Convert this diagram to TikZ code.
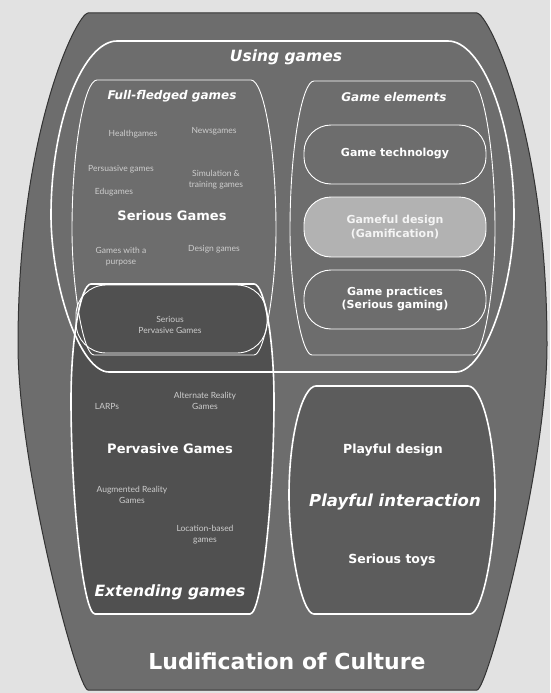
\documentclass[tikz,border=0pt]{standalone}
\usepackage{fontspec}
\setmainfont{DejaVu Sans}
\newfontfamily\itemfont{Lato}
\usetikzlibrary{positioning}
\definecolor{pagegray}{HTML}{E2E2E2}
\definecolor{ludgray}{HTML}{6D6D6D}
\definecolor{extgray}{HTML}{505050}
\definecolor{playgray}{HTML}{5C5C5C}
\definecolor{gamefulgray}{HTML}{B2B2B2}
\definecolor{smalltext}{HTML}{CDCDCD}
\tikzset{thickline/.style = {draw=white, line width=1.6pt}}
\tikzset{thinline/.style = {draw=white, line width=0.9pt}}
\tikzset{pill/.style = {thinline, rounded corners=27pt}}
\tikzset{headlabel/.style = {text=white, font=\bfseries\itshape\fontsize{12}{14}\selectfont}}
\tikzset{biglabel/.style = {text=white, font=\bfseries\itshape\fontsize{15.5}{17}\selectfont}}
\tikzset{mainlabel/.style = {text=white, font=\bfseries\fontsize{13}{15}\selectfont}}
\tikzset{playlabel/.style = {text=white, font=\bfseries\fontsize{12.5}{15}\selectfont}}
\tikzset{pilllabel/.style = {text=white, font=\bfseries\fontsize{11}{13.5}\selectfont, align=center}}
\tikzset{smalllabel/.style = {text=smalltext, font=\itemfont\fontsize{8.5}{11}\selectfont, align=center}}
% barrel: L, R, T, B, widest y, top inset, bottom inset, corner, side pull
\newcommand{\barrel}[9]{%
  ({#1+#6},#3) -- ({#2-#6},#3)
  .. controls ({#2-#6+#8*#6},#3) and (#2,{#3+#9*(#5-#3)}) .. (#2,#5)
  .. controls (#2,{#5+#9*(#4-#5)}) and ({#2-#7+#8*#7},#4) .. ({#2-#7},#4)
  -- ({#1+#7},#4)
  .. controls ({#1+#7-#8*#7},#4) and (#1,{#5+#9*(#4-#5)}) .. (#1,#5)
  .. controls (#1,{#3+#9*(#5-#3)}) and ({#1+#6-#8*#6},#3) .. ({#1+#6},#3) -- cycle}

\begin{document}
\begin{tikzpicture}[x=1pt, y=-1pt]
  \fill[pagegray] (0,0) rectangle (550,693);
  \useasboundingbox (0,0) rectangle (550,693);

  % ludification of culture
  \draw[black!80, line width=1pt, fill=ludgray] \barrel{18}{547}{13}{690}{345}{70}{70}{0.15}{0.35};

  % fills
  \fill[extgray] \barrel{71}{274}{284}{614}{400}{20}{24}{0.5}{0.45};
  \fill[playgray] \barrel{289}{495}{386}{614}{495}{27}{25}{0.5}{0.45};

  % outlines
  \draw[thickline] \barrel{51}{514}{41}{372}{215}{66}{58}{0.5}{0.45};
  \draw[thinline] \barrel{72}{276}{80}{355}{230}{25}{22}{0.5}{0.45};
  \draw[thinline] \barrel{290}{495}{81}{355}{230}{24}{22}{0.5}{0.45};
  \draw[pill] (304,125) rectangle (486,184);
  \draw[pill, fill=gamefulgray] (304,197) rectangle (486,257);
  \draw[pill] (304,270) rectangle (486,329);
  \draw[thinline, rounded corners=30pt] (76,285) rectangle (267,353);
  \draw[thickline] \barrel{71}{274}{284}{614}{400}{20}{24}{0.5}{0.45};
  \draw[thickline] \barrel{289}{495}{386}{614}{495}{27}{25}{0.5}{0.45};

  % using games
  \node[biglabel] (using) at (286,57) {Using games};
  \node[headlabel] (fullfledged) at (172,96) {Full-fledged games};
  \node[headlabel] (elements) at (394,97) {Game elements};

  \node[smalllabel] (health) at (133,134) {Healthgames};
  \node[smalllabel] (news) at (214,131) {Newsgames};
  \node[smalllabel] (persuasive) at (121,169) {Persuasive games};
  \node[smalllabel] (simulation) at (216,180) {Simulation \&\\training games};
  \node[smalllabel] (edu) at (114,192) {Edugames};
  \node[mainlabel] (serious) at (172,216) {Serious Games};
  \node[smalllabel] (purpose) at (121,257) {Games with a\\purpose};
  \node[smalllabel] (design) at (214,249) {Design games};

  \node[pilllabel] (technology) at (395,154) {Game technology};
  \node[pilllabel, text=white!85!gamefulgray] (gameful) at (395,227) {Gameful design\\(Gamification)};
  \node[pilllabel] (practices) at (395,299) {Game practices\\(Serious gaming)};

  % extending games
  \node[smalllabel] (seriouspervasive) at (170,325) {Serious\\Pervasive Games};
  \node[smalllabel] (larps) at (107,406) {LARPs};
  \node[smalllabel] (alternate) at (205,401) {Alternate Reality\\Games};
  \node[mainlabel] (pervasive) at (170,449) {Pervasive Games};
  \node[smalllabel] (augmented) at (132,495) {Augmented Reality\\Games};
  \node[smalllabel] (location) at (205,535) {Location-based\\games};
  \node[biglabel] (extending) at (170,592) {Extending games};

  % playful
  \node[playlabel] (playdesign) at (393,450) {Playful design};
  \node[biglabel, font=\bfseries\itshape\fontsize{16.5}{18}\selectfont] (interaction) at (395,502) {Playful interaction};
  \node[playlabel] (toys) at (392,560) {Serious toys};

  \node[text=white, font=\bfseries\fontsize{22}{26}\selectfont] (ludification) at (287,661) {Ludification of Culture};
\end{tikzpicture}
\end{document}
